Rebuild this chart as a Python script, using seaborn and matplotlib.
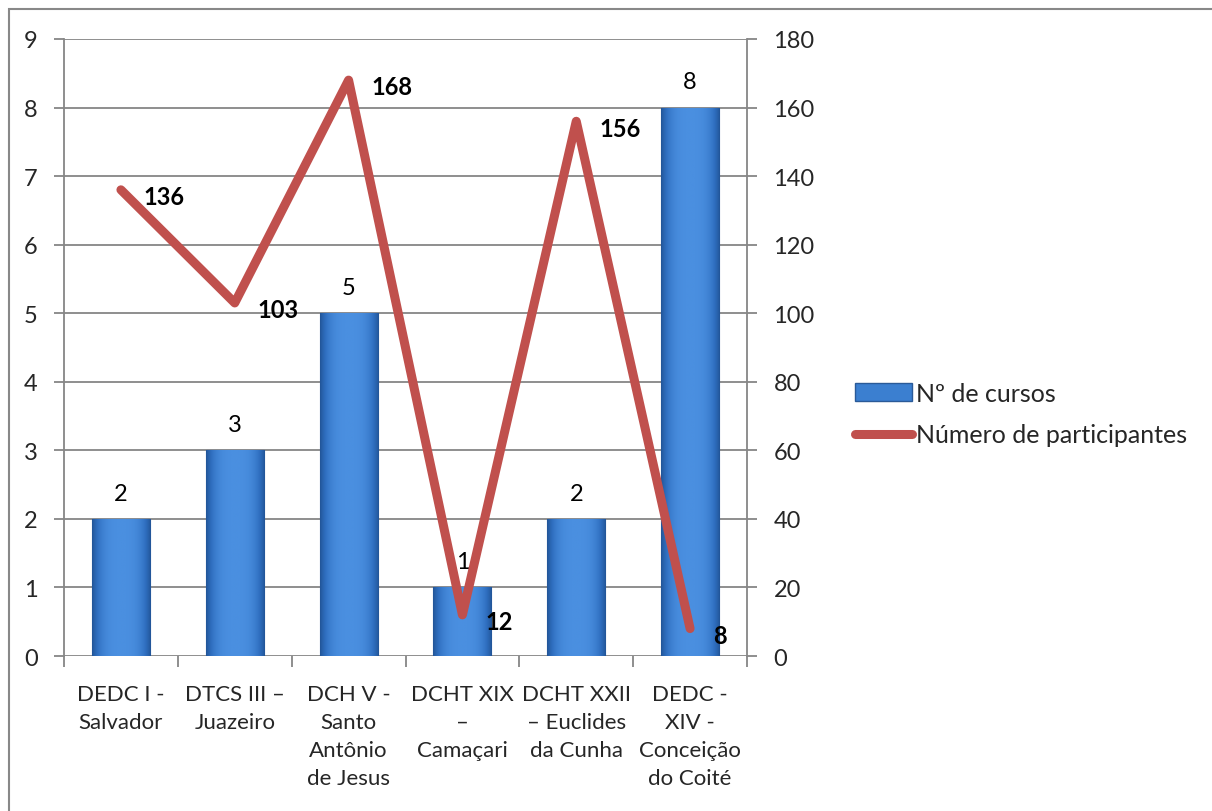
import numpy as np
import pandas as pd
import matplotlib
matplotlib.use("Agg")
import matplotlib.pyplot as plt
import seaborn as sns
from matplotlib.patches import Rectangle
from matplotlib.lines import Line2D
from matplotlib.colors import LinearSegmentedColormap

categories = ["DEDC I -\nSalvador", "DTCS III –\nJuazeiro", "DCH V -\nSanto\nAntônio\nde Jesus",
              "DCHT XIX\n–\nCamaçari", "DCHT XXII\n– Euclides\nda Cunha", "DEDC -\nXIV -\nConceição\ndo Coité"]
cursos = [2, 3, 5, 1, 2, 8]
participantes = [136, 103, 168, 12, 156, 8]
left_ticks = list(range(0, 10))
right_ticks = list(range(0, 181, 20))

sns.set_theme(style="white")
plt.rcParams['font.family'] = ['Lato', 'DejaVu Sans']

df = pd.DataFrame({"cat": categories, "cursos": cursos, "part": participantes})

W, H = 1212, 812
fig = plt.figure(figsize=(W/100, H/100), dpi=100)
ax = fig.add_axes([64/W, 1-657/H, (747-64)/W, (657-40)/H])

grid_c = "#868686"
FS = 17
sns.barplot(data=df, x="cat", y="cursos", ax=ax, color="#3b7fd0", width=0.51, saturation=1, zorder=2)
ax.set_ylim(0, 9)
ax.set_xlim(-0.5, 5.5)
ax.set_yticks(left_ticks)
ax.set_xlabel("")
ax.set_ylabel("")

# gradient fill on bars
grad = np.zeros((50, 100))
xs = np.linspace(-1, 1, 100)
ys = np.linspace(0, 1, 50)
for i, yv in enumerate(ys):
    grad[i] = 1 - np.abs(xs) ** 3 * 0.9
cmap = LinearSegmentedColormap.from_list("b", ["#1f4f8f", "#2f6fc0", "#4a8fe0"])
for p in ax.patches:
    x0, y0 = p.get_x(), p.get_y()
    w, h = p.get_width(), p.get_height()
    im = ax.imshow(grad, extent=[x0, x0 + w, y0, y0 + h], aspect="auto", cmap=cmap,
                   origin="lower", zorder=2.1, vmin=0, vmax=1)
    im.set_clip_path(p)
    p.set_edgecolor("#2a5a98")
    p.set_linewidth(0.8)
    ax.text(x0 + w/2, h + 0.22, f"{int(h)}", ha="center", va="bottom", fontsize=FS, color="black", zorder=5)

for v in left_ticks:
    ax.axhline(v, color=grid_c, lw=1.3, zorder=1)

for s in ["top", "right", "bottom"]:
    ax.spines[s].set_visible(False)
ax.spines["left"].set_color(grid_c)
ax.spines["left"].set_linewidth(1.3)
ax.tick_params(axis="y", which="both", left=True, length=7, width=1.3, color=grid_c, labelsize=FS, pad=12)
ax.set_xticks(range(6))
ax.set_xticklabels(categories, fontsize=16, linespacing=1.5)
ax.tick_params(axis="x", length=0, pad=20)
ax.set_xticks(np.arange(-0.5, 6, 1), minor=True)
ax.tick_params(axis="x", which="minor", bottom=True, length=8, width=1.3, color=grid_c)

ax2 = ax.twinx()
sns.lineplot(x=list(range(6)), y=participantes, ax=ax2, color="#c0504d", lw=6.5,
             solid_capstyle="round", solid_joinstyle="round", zorder=4)
ax2.set_ylim(0, 180)
ax2.set_yticks(right_ticks)
for s in ["top", "left", "bottom"]:
    ax2.spines[s].set_visible(False)
ax2.spines["right"].set_color(grid_c)
ax2.spines["right"].set_linewidth(1.3)
ax2.tick_params(axis="y", right=True, length=7, width=1.3, color=grid_c, labelsize=FS, pad=12)
ax2.set_ylabel("")
for i, v in enumerate(participantes):
    ax2.text(i + 0.2, v - 2, f"{v}", ha="left", va="center", fontsize=FS, fontweight="bold", color="black", zorder=6)

# legend
handles = [Rectangle((0, 0), 1, 1, facecolor="#3b7fd0", edgecolor="#2a5a98"),
           Line2D([0], [0], color="#c0504d", lw=6.5, solid_capstyle="round")]
fig.legend(handles, ["Nº de cursos", "Número de participantes"], loc="center left",
           bbox_to_anchor=(832/W, 1-415/H), frameon=False, fontsize=18, handlelength=2.3,
           handletextpad=0.15, labelspacing=0.75)

# outer border
fig.add_artist(Rectangle((9/W, -0.1), 1.2, (1-10/H) + 0.1, transform=fig.transFigure,
                         fill=False, edgecolor="#888888", lw=1.5))

fig.savefig("out.png", dpi=100)
